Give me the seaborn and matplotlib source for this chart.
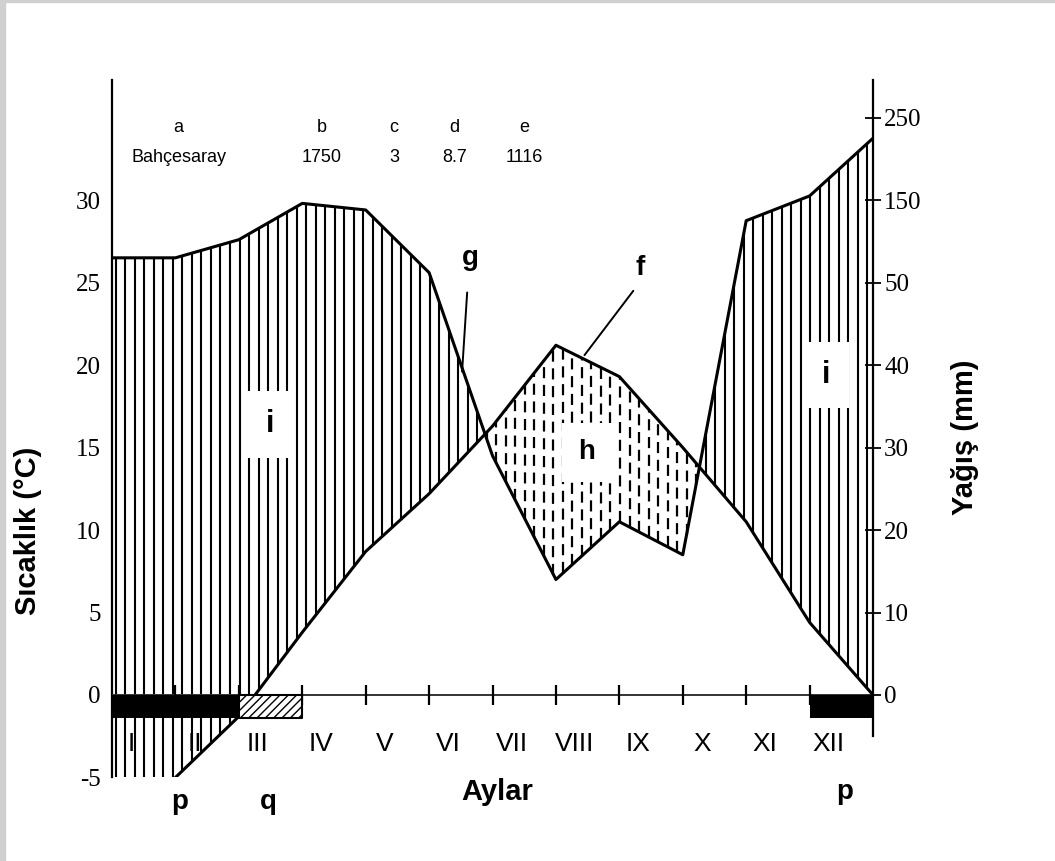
import numpy as np
import pandas as pd
import seaborn as sns
import matplotlib
matplotlib.use("Agg")
import matplotlib.pyplot as plt
from matplotlib.patches import Rectangle

# Bahcesaray climate diagram (Walter-Lieth style)
months = [1, 2, 3, 4, 5, 6, 7, 8, 9, 10, 11, 12]
month_names = ["I", "II", "III", "IV", "V", "VI", "VII", "VIII", "IX", "X", "XI", "XII"]
temperature = [-5.0, -1.3, 3.8, 8.7, 12.2, 16.3, 21.2, 19.3, 15.0, 10.5, 4.4, 0.0]
precipitation = [80, 102, 146, 138, 62, 29, 14, 21, 17, 125, 155, 225]

header_keys = ["a", "b", "c", "d", "e"]
header_values = ["Bahçesaray", "1750", "3", "8.7", "1116"]

temp_ticks = [-5, 0, 5, 10, 15, 20, 25, 30]
prec_ticks = [0, 10, 20, 30, 40, 50, 150, 250]

frost_spans = [(0, 2), (11, 12)]   # p
late_frost_spans = [(2, 3)]        # q


def mm_to_temp(p):
    # 10 mm = 5 C up to 50 mm, then 100 mm = 5 C
    p = np.asarray(p, dtype=float)
    return np.where(p <= 50, p / 2, 25 + (p - 50) / 20)


def temp_to_mm(t):
    t = np.asarray(t, dtype=float)
    return np.where(t <= 25, t * 2, 50 + (t - 25) * 20)


df = pd.DataFrame({
    "month": [0] + months,
    "temp": [temperature[0]] + temperature,
    "prec": mm_to_temp([precipitation[0]] + precipitation),
})

sns.set_style("white")
plt.rcParams["font.family"] = ["Liberation Sans", "DejaVu Sans"]
plt.rcParams["axes.unicode_minus"] = False
plt.rcParams["text.color"] = "black"

fig = plt.figure(figsize=(10.55, 8.61), dpi=100)
ax = fig.add_axes([0.1062, 0.097, 0.7213, 0.8105])
ax.set_xlim(0, 12)
ax.set_ylim(-5, 37.3)

# month names sit under the hatching (I and II are mostly hidden)
for m, name in zip(months, month_names):
    ax.text(m - 0.7, -3.0, name, fontsize=19, ha="center", va="center", zorder=1)

# hatching: solid verticals for the humid part, dashed for the dry part
xs = np.arange(0.06, 12, 0.15)
top = np.interp(xs, df["month"], df["prec"])
bot = np.interp(xs, df["month"], df["temp"])
wet = top > bot
ax.vlines(xs[wet], bot[wet], top[wet], color="black", lw=1.5, zorder=2)
ax.vlines(xs[~wet], top[~wet], bot[~wet], color="black", lw=1.6,
          linestyles=(0, (5, 3)), zorder=2)

# axis line at zero with month ticks
ax.axhline(0, color="#333333", lw=1.4, zorder=3)
ax.plot(months[:-1], np.zeros(len(months) - 1), ls="none", marker="|",
        ms=14, mew=1.6, color="black", zorder=3)

# frost boxes
for a, b in frost_spans:
    ax.fill_between([a, b], -1.4, 0, color="black", lw=0, zorder=5)
for a, b in late_frost_spans:
    ax.fill_between([a, b], -1.4, 0, facecolor="white", edgecolor="black",
                    hatch="////", lw=1.5, zorder=5)

# curves
sns.lineplot(data=df, x="month", y="prec", color="black", lw=2.2, ax=ax, zorder=4)
sns.lineplot(data=df[df["month"] >= 1], x="month", y="temp", color="black",
             lw=2.2, ax=ax, zorder=4)

# axes
for side in ["top", "right", "bottom"]:
    ax.spines[side].set_visible(False)
ax.spines["left"].set_color("black")
ax.spines["left"].set_linewidth(1.6)
ax.set_xticks([])
ax.set_xlabel("")
ax.set_ylabel("")
ax.set_yticks(temp_ticks)
ax.tick_params(axis="y", direction="inout", length=12, width=1.3, pad=2,
               labelsize=18, colors="black")
for lab in ax.get_yticklabels():
    lab.set_family("Liberation Serif")

sec = ax.secondary_yaxis("right", functions=(temp_to_mm, mm_to_temp))
sec.set_yticks(prec_ticks)
sec.spines["right"].set_color("black")
sec.spines["right"].set_linewidth(1.6)
sec.spines["right"].set_bounds(-5, 296)
sec.tick_params(axis="y", direction="inout", length=12, width=1.3, pad=2,
                labelsize=18, colors="black")
for lab in sec.get_yticklabels():
    lab.set_family("Liberation Serif")

# header: station, altitude, years, mean temp, annual rain
header_x = [1.05, 3.3, 4.45, 5.4, 6.5]
for x, key, val in zip(header_x, header_keys, header_values):
    ax.text(x, 34.4, key, fontsize=13, ha="center", va="center")
    ax.text(x, 32.6, val, fontsize=13, ha="center", va="center")

# letters
bold = dict(fontweight="bold", ha="center", va="center", zorder=6)
ax.text(5.65, 26.5, "g", fontsize=20, **bold)
ax.plot([5.6, 5.52], [24.4, 19.6], color="black", lw=1.4, zorder=6)
ax.text(8.33, 25.9, "f", fontsize=20, **bold)
ax.plot([8.22, 7.45], [24.5, 20.6], color="black", lw=1.4, zorder=6)
box = dict(boxstyle="square,pad=0.6", fc="white", ec="none")
ax.text(7.49, 14.7, "h", fontsize=20, bbox=box, **bold)
ax.text(2.49, 16.4, "i", fontsize=22, bbox=box, **bold)
ax.text(11.26, 19.4, "i", fontsize=22, bbox=box, **bold)
ax.text(1.07, -6.5, "p", fontsize=20, clip_on=False, **bold)
ax.text(2.46, -6.5, "q", fontsize=20, clip_on=False, **bold)
ax.text(11.56, -5.9, "p", fontsize=20, clip_on=False, **bold)
ax.text(6.07, -5.9, "Aylar", fontsize=21, clip_on=False, **bold)

fig.text(0.027, 0.384, "Sıcaklık (°C)", rotation=90, fontsize=21,
         fontweight="bold", ha="center", va="center")
fig.text(0.915, 0.492, "Yağış (mm)", rotation=90, fontsize=21,
         fontweight="bold", ha="center", va="center")

# scan border
fig.patches.append(Rectangle((0, 0), 5 / 1055, 1, transform=fig.transFigure,
                             color="#d0d0d0", zorder=0))
fig.patches.append(Rectangle((0, 1 - 2 / 861), 1, 2 / 861, transform=fig.transFigure,
                             color="#d0d0d0", zorder=0))

fig.savefig("out.png", dpi=100)
